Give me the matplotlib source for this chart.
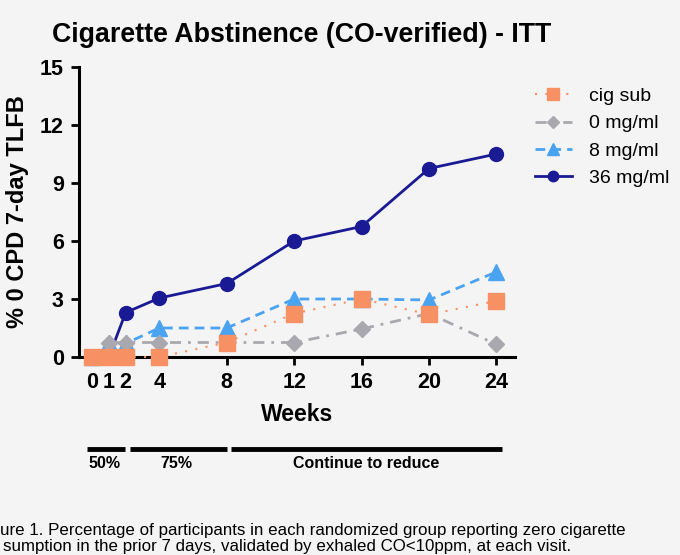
import matplotlib
matplotlib.use("Agg")
import matplotlib.pyplot as plt

weeks = [0, 1, 2, 4, 8, 12, 16, 20, 24]
cig_sub = [0, 0, 0, 0, 0.75, 2.25, 3.0, 2.2, 2.9]
mg0 = [0, 0.75, 0.75, 0.75, 0.75, 0.75, 1.45, 2.25, 0.65]
mg8 = [0, 0.7, 0.7, 1.5, 1.5, 3.0, 3.0, 2.95, 4.4]
mg36 = [0, 0, 2.3, 3.05, 3.8, 6.0, 6.75, 9.75, 10.5]

phases = ["50%", "75%", "Continue to reduce"]
phase_spans = [(87, 125), (130, 227), (231, 502)]  # pixel x of bars under the axis
phase_label_x = [104, 176, 366]

plt.rcParams['font.family'] = ['Liberation Sans', 'DejaVu Sans']
bg = '#f4f4f4'

fig = plt.figure(figsize=(6.8, 5.55), dpi=100, facecolor=bg)
ax = fig.add_axes([79 / 680, 1 - 357 / 555, (515 - 79) / 680, (357 - 67) / 555])
ax.set_facecolor(bg)

ax.plot(weeks, mg36, color='#1a1a94', lw=2, marker='o', ms=10, ls='-',
        label='36 mg/ml', zorder=2, clip_on=False)
ax.plot(weeks, mg8, color='#4aa3f0', lw=2, marker='^', ms=11, ls=(0, (3.5, 2.2)),
        label='8 mg/ml', zorder=3, clip_on=False)
ax.plot(weeks, mg0, color='#a8a8ae', lw=2, marker='D', ms=8, ls=(0, (4, 2.5, 1, 2.5)),
        label='0 mg/ml', zorder=4, clip_on=False)
ax.plot(weeks, cig_sub, color='#f79062', lw=1.5, marker='s', ms=11, ls=(0, (1, 4)),
        label='cig sub', zorder=5, clip_on=False)

ax.set_xlim(-0.77, 25.1)
ax.set_ylim(0, 15)
ax.set_xticks(weeks)
ax.set_yticks([0, 3, 6, 9, 12, 15])
for s in ['top', 'right']:
    ax.spines[s].set_visible(False)
for s in ['left', 'bottom']:
    ax.spines[s].set_linewidth(2.2)
ax.tick_params(width=2, length=6, labelsize=15.5, pad=5)
for lab in ax.get_xticklabels() + ax.get_yticklabels():
    lab.set_fontweight('bold')

ax.set_xlabel('Weeks', fontsize=16.5, fontweight='bold', labelpad=7)
ax.set_ylabel('% 0 CPD 7-day TLFB', fontsize=17, fontweight='bold', labelpad=8)

handles, labels = ax.get_legend_handles_labels()
order = [3, 2, 1, 0]
ax.legend([handles[i] for i in order], [labels[i] for i in order],
          loc='upper left', bbox_to_anchor=(1.005, 0.99), frameon=False,
          fontsize=14, handlelength=1.9, handletextpad=0.9,
          labelspacing=0.5, markerscale=0.75)

fig.text(302 / 680, 1 - 35 / 555, 'Cigarette Abstinence (CO-verified) - ITT',
         ha='center', va='center', fontsize=19.3, fontweight='bold')

# phase bars below the axis
for (x0, x1), name, lx in zip(phase_spans, phases, phase_label_x):
    fig.add_artist(plt.Line2D([x0 / 680, x1 / 680], [1 - 449 / 555] * 2,
                              color='black', lw=3.5, solid_capstyle='butt'))
    fig.text(lx / 680, 1 - 464 / 555, name, ha='center', va='center',
             fontsize=11.5, fontweight='bold')

cap_font = ['Liberation Sans Narrow', 'Liberation Sans', 'DejaVu Sans']
fig.text(0, 1 - 530 / 555,
         'ure 1. Percentage of participants in each randomized group reporting zero cigarette',
         ha='left', va='center', fontsize=12.2, family=cap_font)
fig.text(3 / 680, 1 - 547 / 555,
         'sumption in the prior 7 days, validated by exhaled CO<10ppm, at each visit.',
         ha='left', va='center', fontsize=12.2, family=cap_font)

fig.savefig('out.png', dpi=100, facecolor=bg)
